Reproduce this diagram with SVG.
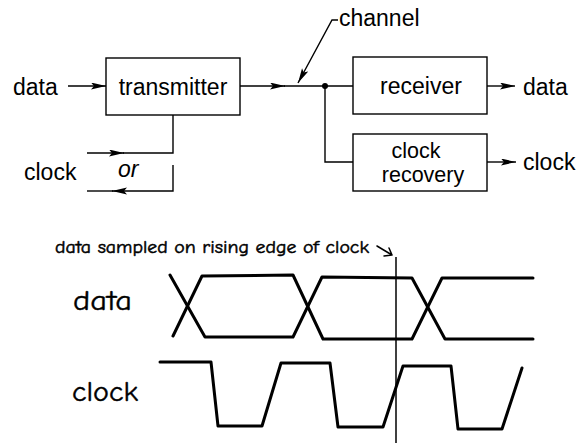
<svg xmlns="http://www.w3.org/2000/svg" width="584" height="443" viewBox="0 0 584 443">
<style>
.t{font-family:"Liberation Sans",Arial,sans-serif;font-size:23px;fill:#000}
.s{font-size:21.5px}
.c{font-family:"Comic Sans MS","Comic Neue","DejaVu Sans",sans-serif;fill:#000;stroke:#000;stroke-width:0.5}
.box{fill:#fff;stroke:#000;stroke-width:1.4}
.w{fill:none;stroke:#000;stroke-width:1.4}
.wave{fill:none;stroke:#000;stroke-width:3;stroke-linejoin:round;stroke-linecap:round}
</style>
<defs>
<marker id="ah" markerUnits="userSpaceOnUse" markerWidth="16" markerHeight="8" refX="15" refY="3.5" orient="auto">
<path d="M0,0 L15,3.5 L0,7 L3,3.5 z" fill="#000"/>
</marker>
</defs>
<rect width="584" height="443" fill="#fff"/>

<g id="connectors">
<line class="w" x1="68" y1="86" x2="106" y2="86" marker-end="url(#ah)"/>
<line class="w" x1="240" y1="86" x2="285" y2="86" marker-end="url(#ah)"/>
<line class="w" x1="284" y1="86" x2="353" y2="86"/>
<polyline class="w" points="338,20 332,20 298,83" marker-end="url(#ah)"/>
<circle cx="325" cy="86" r="3" fill="#000"/>
<polyline class="w" points="325,86 325,162 353,162"/>
<line class="w" x1="487" y1="86" x2="515" y2="86" marker-end="url(#ah)"/>
<line class="w" x1="487" y1="162" x2="516" y2="162" marker-end="url(#ah)"/>
<line class="w" x1="87" y1="153" x2="124" y2="153" marker-end="url(#ah)"/>
<polyline class="w" points="123,153 173,153 173,115"/>
<polyline class="w" points="173,165 173,191 112,191" marker-end="url(#ah)"/>
<line class="w" x1="113" y1="191" x2="87" y2="191"/>
</g>

<g id="data-in"><text class="t" x="13" y="95">data</text></g>
<g id="transmitter">
<rect class="box" x="106" y="58" width="134" height="57"/>
<text class="t" x="173" y="95" text-anchor="middle">transmitter</text>
</g>
<g id="channel"><text class="t" x="339" y="26">channel</text></g>
<g id="receiver">
<rect class="box" x="353" y="57" width="134" height="57"/>
<text class="t" x="421" y="94" text-anchor="middle">receiver</text>
</g>
<g id="clock-recovery">
<rect class="box" x="353" y="134" width="134" height="57"/>
<text class="t s" x="416" y="158" text-anchor="middle">clock</text>
<text class="t s" x="423" y="182" text-anchor="middle">recovery</text>
</g>
<g id="data-out"><text class="t" x="523" y="95">data</text></g>
<g id="clock-out"><text class="t" x="523" y="170">clock</text></g>
<g id="clock-in"><text class="t" x="24" y="180">clock</text></g>
<g id="or"><text class="t" x="118" y="177" font-style="italic">or</text></g>

<g id="timing">
<text class="c" x="55" y="253" font-size="18" textLength="314" lengthAdjust="spacingAndGlyphs">data sampled on rising edge of clock</text>
<path d="M377,246 L392,255 M384,256 L392,255 L389,248" fill="none" stroke="#000" stroke-width="1.5" stroke-linejoin="round" stroke-linecap="round"/>
<line x1="396" y1="257" x2="396" y2="443" stroke="#000" stroke-width="1.5"/>
<text class="c" x="73" y="310" font-size="28" textLength="59" lengthAdjust="spacingAndGlyphs" style="stroke-width:0.4">data</text>
<text class="c" x="72" y="401" font-size="28" textLength="66" lengthAdjust="spacingAndGlyphs" style="stroke-width:0.4">clock</text>
<polyline class="wave" points="170,275 205,337 293,337 322,277 412,278 445,339 533,339"/>
<polyline class="wave" points="173,336 202,276 293,275 323,339 412,339 442,278 533,278"/>
<polyline class="wave" points="160,362 211,362 218,426 262,426 281,363 330,363 338,427 383,427 403,366 451,366 458,429 502,429 522,368"/>
</g>
</svg>
